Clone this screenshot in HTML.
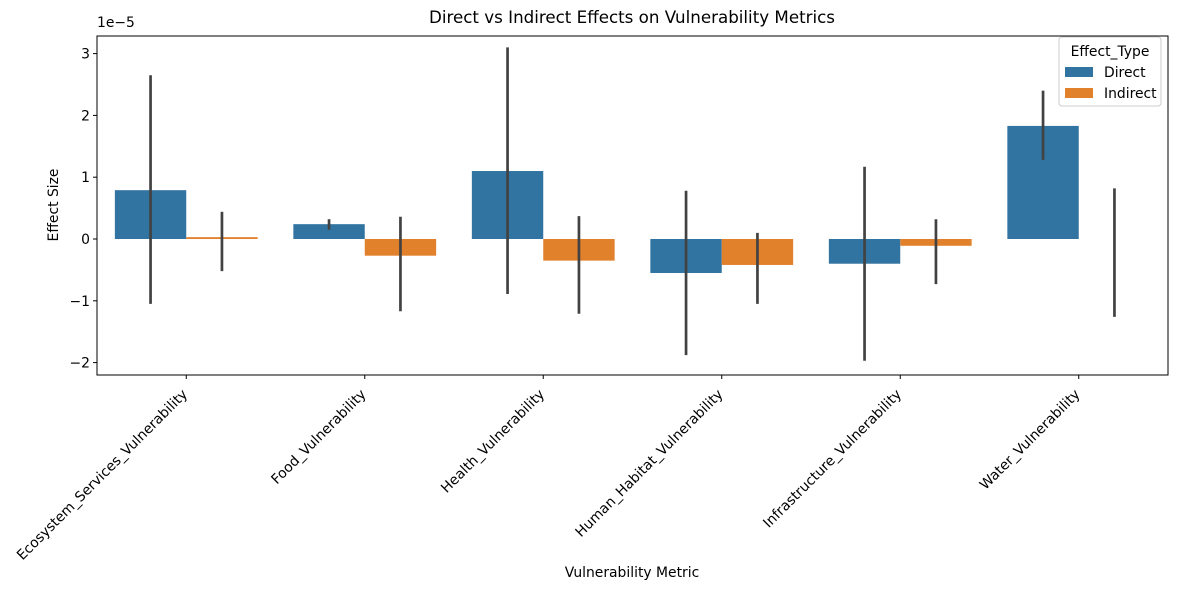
<!DOCTYPE html>
<html><head><meta charset="utf-8"><style>
body{margin:0;background:#fff;font-family:"Liberation Sans","DejaVu Sans",sans-serif;}
svg text{font-family:"DejaVu Sans","Liberation Sans",sans-serif;fill:#000;}
</style></head><body>
<svg id="c" width="1178" height="590" xmlns="http://www.w3.org/2000/svg"></svg>
<script>
const categories=["Ecosystem_Services_Vulnerability","Food_Vulnerability","Health_Vulnerability","Human_Habitat_Vulnerability","Infrastructure_Vulnerability","Water_Vulnerability"];
const directVals=[0.79,0.24,1.1,-0.55,-0.4,1.83];
const directLo=[-1.05,0.15,-0.89,-1.88,-1.97,1.28];
const directHi=[2.65,0.32,3.1,0.78,1.17,2.4];
const indirectVals=[0.03,-0.27,-0.35,-0.42,-0.11,0.0];
const indirectLo=[-0.52,-1.17,-1.21,-1.05,-0.73,-1.26];
const indirectHi=[0.44,0.36,0.37,0.1,0.32,0.82];
const yTicks=[-2,-1,0,1,2,3];
const yTickLabels=["−2","−1","0","1","2","3"];
const NS="http://www.w3.org/2000/svg";
const svg=document.getElementById('c');
const L=97,R=1168,T=36,B=375;
const y0=239,ppu=61.8;
const FS=13.9;
function y(v){return y0-v*ppu;}
const step=(R-L)/categories.length;
function xc(i){return L+step*(i+0.5);}
const bw=step*0.4;
function mk(tag,at,txt){const e=document.createElementNS(NS,tag);for(const k in at)e.setAttribute(k,at[k]);if(txt!==undefined)e.textContent=txt;svg.appendChild(e);return e;}
let e;
e=mk('rect',{x:L,y:T,width:R-L,height:B-T,fill:'none',stroke:'#000','stroke-width':1});

function series(vals,lo,hi,off,color,name){
 vals.forEach((v,i)=>{
  const x=xc(i)+off;
  const r=mk('rect',{x:x,y:Math.min(y(v),y(0)),width:bw,height:Math.abs(y(v)-y(0)),fill:color});
  
  const l=mk('line',{x1:x+bw/2,x2:x+bw/2,y1:y(lo[i]),y2:y(hi[i]),stroke:'#424242','stroke-width':2.7});
  
 });
}
series(directVals,directLo,directHi,-bw,'#3274a1','direct');
series(indirectVals,indirectLo,indirectHi,0,'#e1812c','indirect');
yTicks.forEach((t,i)=>{
 const l=mk('line',{x1:L-4,x2:L,y1:y(t),y2:y(t),stroke:'#000'});
 
 const s=mk('text',{x:L-7,y:y(t)+5,'text-anchor':'end','font-size':FS},yTickLabels[i]);
 
});
e=mk('text',{x:L,y:27,'font-size':FS},'1e−5');
categories.forEach((c,i)=>{
 const x=xc(i);
 const l=mk('line',{x1:x,x2:x,y1:B,y2:B+4,stroke:'#000'});
 
 const s=mk('text',{x:x+2,y:B+20,'text-anchor':'end','font-size':FS,transform:`rotate(-45 ${x+2} ${B+20})`},c);
 
});
e=mk('text',{x:632,y:23,'text-anchor':'middle','font-size':16.7},'Direct vs Indirect Effects on Vulnerability Metrics');
e=mk('text',{x:632,y:577,'text-anchor':'middle','font-size':FS},'Vulnerability Metric');
e=mk('text',{x:58,y:205,'text-anchor':'middle','font-size':FS,transform:'rotate(-90 58 205)'},'Effect Size');
e=mk('rect',{x:1059,y:37,width:102,height:69,rx:3,fill:'#fff',stroke:'#ccc'});
e=mk('text',{x:1110,y:56,'text-anchor':'middle','font-size':FS},'Effect_Type');
[['Direct','#3274a1',72],['Indirect','#e1812c',93]].forEach(d=>{
 const r=mk('rect',{x:1065,y:d[2]-5,width:28,height:10,fill:d[1]});
 const t=mk('text',{x:1104,y:d[2]+5,'font-size':FS},d[0]);
});
</script>
</body></html>
